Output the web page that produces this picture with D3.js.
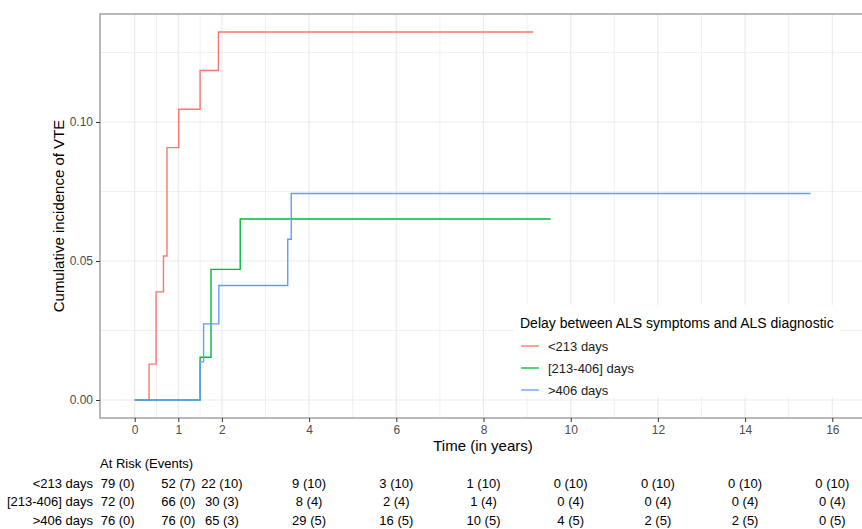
<!DOCTYPE html>
<html>
<head>
<meta charset="utf-8">
<script src="https://cdn.jsdelivr.net/npm/d3@7"></script>
<style>
  html, body { margin: 0; padding: 0; background: #fff; }
  svg { display: block; font-family: "Liberation Sans", Arial, sans-serif; }
</style>
</head>
<body>
<svg id="chart" width="862" height="529"></svg>
<script>
// ---------------- Data ----------------
const groups = ["<213 days", "[213-406] days", ">406 days"];
const colors = ["#F8766D", "#00BA38", "#619CFF"];

const timesShort = [0, 0.33, 0.49, 0.66, 0.74, 1.01, 1.50, 1.92, 9.14];
const cifShort   = [0, 0.0129, 0.0389, 0.0518, 0.0908, 0.1046, 0.1185, 0.1324, 0.1324];

const timesMid = [0, 1.50, 1.75, 2.42, 9.54];
const cifMid   = [0, 0.0154, 0.0470, 0.0651, 0.0651];

const timesLong = [0, 1.50, 1.58, 1.93, 3.51, 3.59, 15.5];
const cifLong   = [0, 0.0137, 0.0274, 0.0412, 0.0578, 0.0743, 0.0743];

const xTicks = [0, 1, 2, 4, 6, 8, 10, 12, 14, 16];
const xMinor = [0.5, 1.5, 3, 5, 7, 9, 11, 13, 15];
const yTicks = [0, 0.05, 0.10];
const yMinor = [0.025, 0.075, 0.125];

const riskTimes = [0, 1, 2, 4, 6, 8, 10, 12, 14, 16];
const atRiskShort = [79, 52, 22, 9, 3, 1, 0, 0, 0, 0];
const eventsShort = [0, 7, 10, 10, 10, 10, 10, 10, 10, 10];
const atRiskMid   = [72, 66, 30, 8, 2, 1, 0, 0, 0, 0];
const eventsMid   = [0, 0, 3, 4, 4, 4, 4, 4, 4, 4];
const atRiskLong  = [76, 76, 65, 29, 16, 10, 4, 2, 2, 0];
const eventsLong  = [0, 0, 3, 5, 5, 5, 5, 5, 5, 5];

// ---------------- Layout ----------------
const svg = d3.select("#chart");
const panel = { left: 100, top: 14, right: 900, bottom: 418 };
const x = d3.scaleLinear().domain([0, 16]).range([134.7, 832.3]);
const y = d3.scaleLinear().domain([0, 0.10]).range([400, 122]);

svg.append("rect").attr("x", panel.left).attr("y", panel.top)
  .attr("width", panel.right - panel.left).attr("height", panel.bottom - panel.top)
  .attr("fill", "#fff");

const grid = svg.append("g");
grid.selectAll(".vmin").data(xMinor).join("line")
  .attr("x1", d => x(d)).attr("x2", d => x(d))
  .attr("y1", panel.top).attr("y2", panel.bottom)
  .attr("stroke", "#f0f0f0").attr("stroke-width", 1);
grid.selectAll(".hmin").data(yMinor).join("line")
  .attr("y1", d => y(d)).attr("y2", d => y(d))
  .attr("x1", panel.left).attr("x2", panel.right)
  .attr("stroke", "#f0f0f0").attr("stroke-width", 1);
grid.selectAll(".vmaj").data(xTicks).join("line")
  .attr("x1", d => x(d)).attr("x2", d => x(d))
  .attr("y1", panel.top).attr("y2", panel.bottom)
  .attr("stroke", "#ebebeb").attr("stroke-width", 1.2);
grid.selectAll(".hmaj").data(yTicks).join("line")
  .attr("y1", d => y(d)).attr("y2", d => y(d))
  .attr("x1", panel.left).attr("x2", panel.right)
  .attr("stroke", "#ebebeb").attr("stroke-width", 1.2);

// curves
const series = [
  { t: timesShort, v: cifShort },
  { t: timesMid, v: cifMid },
  { t: timesLong, v: cifLong }
];
const line = d3.line().x(d => x(d[0])).y(d => y(d[1])).curve(d3.curveStepAfter);
series.forEach((s, i) => {
  const pts = s.t.map((t, j) => [t, s.v[j]]);
  svg.append("path").attr("d", line(pts))
    .attr("fill", "none").attr("stroke", colors[i]).attr("stroke-width", 1.4);
});

// legend
const lg = svg.append("g");
lg.append("rect").attr("x", 514).attr("y", 305).attr("width", 326).attr("height", 92).attr("fill", "#fff");
lg.append("text").attr("x", 520).attr("y", 327.5).attr("font-size", 14).attr("fill", "#000")
  .text("Delay between ALS symptoms and ALS diagnostic");
groups.forEach((g, i) => {
  const cy = 346 + i * 22;
  lg.append("line").attr("x1", 521).attr("x2", 539).attr("y1", cy).attr("y2", cy)
    .attr("stroke", colors[i]).attr("stroke-width", 1.3);
  lg.append("text").attr("x", 548).attr("y", cy + 4.5).attr("font-size", 13).attr("fill", "#1a1a1a").text(g);
});

// panel border
svg.append("rect").attr("x", panel.left).attr("y", panel.top)
  .attr("width", panel.right - panel.left).attr("height", panel.bottom - panel.top)
  .attr("fill", "none").attr("stroke", "#8a8a8a").attr("stroke-width", 1.2);

// axes
const xAxis = d3.axisBottom(x).tickValues(xTicks).tickFormat(d3.format("d")).tickSize(4).tickPadding(3);
const gx = svg.append("g").attr("transform", `translate(0,${panel.bottom})`).call(xAxis);
gx.select(".domain").remove();
gx.selectAll(".tick line").attr("stroke", "#333");
gx.selectAll(".tick text").attr("fill", "#4d4d4d").attr("font-size", 12).attr("font-family", "Liberation Sans, Arial, sans-serif");

const yAxis = d3.axisLeft(y).tickValues(yTicks).tickFormat(d3.format(".2f")).tickSize(4).tickPadding(3);
const gy = svg.append("g").attr("transform", `translate(${panel.left},0)`).call(yAxis);
gy.select(".domain").remove();
gy.selectAll(".tick line").attr("stroke", "#333");
gy.selectAll(".tick text").attr("fill", "#4d4d4d").attr("font-size", 12).attr("font-family", "Liberation Sans, Arial, sans-serif");

// axis titles
svg.append("text").attr("x", 483).attr("y", 451).attr("text-anchor", "middle")
  .attr("font-size", 15).attr("fill", "#000").text("Time (in years)");
svg.append("text").attr("transform", `translate(64,216) rotate(-90)`).attr("text-anchor", "middle")
  .attr("font-size", 15).attr("fill", "#000").text("Cumulative incidence of VTE");

// risk table
svg.append("text").attr("x", 100).attr("y", 467.5).attr("font-size", 13).attr("fill", "#000").text("At Risk (Events)");
const rows = [
  { n: atRiskShort, e: eventsShort },
  { n: atRiskMid, e: eventsMid },
  { n: atRiskLong, e: eventsLong }
];
// first column is pulled left to clear the crowded start of the table
const colNudge = j => (j === 0 ? -17 : 0);
rows.forEach((r, i) => {
  const yy = 487.5 + i * 18.5;
  svg.append("text").attr("x", 93).attr("y", yy).attr("text-anchor", "end")
    .attr("font-size", 13).attr("fill", "#000").text(groups[i]);
  riskTimes.forEach((t, j) => {
    svg.append("text").attr("x", x(t) + colNudge(j)).attr("y", yy).attr("text-anchor", "middle")
      .attr("font-size", 13).attr("fill", "#000").text(`${r.n[j]} (${r.e[j]})`);
  });
});
</script>
</body>
</html>
